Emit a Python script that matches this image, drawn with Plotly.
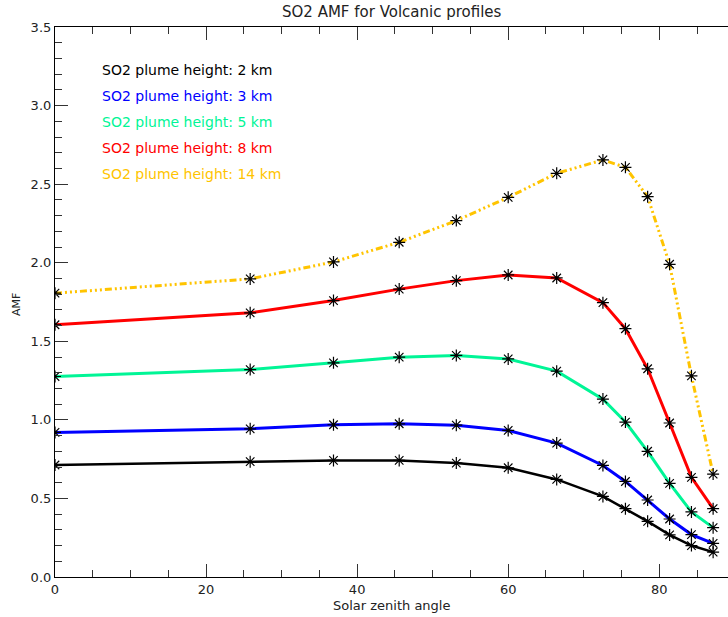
import plotly.graph_objects as go

sza = [0.0, 25.84, 36.87, 45.57, 53.13, 60.0, 66.42, 72.54, 75.52, 78.46, 81.37, 84.26, 87.13]

amf_2km = [0.713, 0.734, 0.742, 0.742, 0.725, 0.695, 0.621, 0.513, 0.435, 0.354, 0.268, 0.200, 0.158]
amf_3km = [0.920, 0.943, 0.969, 0.975, 0.966, 0.933, 0.852, 0.710, 0.608, 0.490, 0.369, 0.270, 0.214]
amf_5km = [1.276, 1.320, 1.363, 1.399, 1.410, 1.388, 1.310, 1.132, 0.986, 0.800, 0.596, 0.414, 0.314]
amf_8km = [1.605, 1.681, 1.759, 1.832, 1.886, 1.922, 1.903, 1.746, 1.580, 1.325, 0.980, 0.634, 0.435]
amf_14km = [1.806, 1.897, 2.005, 2.130, 2.268, 2.416, 2.569, 2.654, 2.607, 2.420, 1.990, 1.280, 0.655]

labels = ["SO2 plume height: 2 km", "SO2 plume height: 3 km", "SO2 plume height: 5 km",
          "SO2 plume height: 8 km", "SO2 plume height: 14 km"]
series = [amf_2km, amf_3km, amf_5km, amf_8km, amf_14km]
colors = ["#000000", "#0000ff", "#00f596", "#ff0000", "#ffc400"]
dashes = ["solid", "solid", "solid", "solid", "7px,3px,2px,3px,2px,3px,2px,3px"]
widths = [2.5, 3, 3, 3, 3]
label_y = [3.226, 3.060, 2.896, 2.730, 2.565]

FONT = "DejaVu Sans"
W, H = 728, 617
L, R, T, B = 55, 0, 27, 40
plot_w = W - L - R
plot_h = H - T - B

fig = go.Figure()
for ys, c, d, w, name in zip(series, colors, dashes, widths, labels):
    fig.add_trace(go.Scatter(
        x=sza, y=ys, mode="lines+markers", name=name,
        line=dict(color=c, width=w, dash=d),
        marker=dict(symbol="asterisk-open", size=10, color="black",
                    line=dict(color="black", width=1.2)),
        showlegend=False,
    ))

for name, c, yy in zip(labels, colors, label_y):
    fig.add_annotation(x=6.0, y=yy, xref="x", yref="y", text=name, showarrow=False,
                       xanchor="left", yanchor="middle",
                       font=dict(family=FONT, size=14, color=c))

# title
fig.add_annotation(x=0.5, y=1 + 15 / plot_h, xref="paper", yref="paper",
                   text="SO2 AMF for Volcanic profiles", showarrow=False,
                   xanchor="center", yanchor="middle",
                   font=dict(family=FONT, size=15, color="#222222"))
# x title
fig.add_annotation(x=0.5, y=-28 / plot_h, xref="paper", yref="paper",
                   text="Solar zenith angle", showarrow=False,
                   xanchor="center", yanchor="middle",
                   font=dict(family=FONT, size=13, color="#222222"))
# y title
fig.add_annotation(x=-38 / plot_w, y=272 / plot_h, xref="paper", yref="paper",
                   text="AMF", showarrow=False, textangle=-90,
                   xanchor="center", yanchor="middle",
                   font=dict(family=FONT, size=11, color="#222222"))

fig.update_layout(
    width=W, height=H,
    margin=dict(l=L, r=R, t=T, b=B, autoexpand=False),
    paper_bgcolor="white", plot_bgcolor="white",
    font=dict(family=FONT, size=12, color="#222222"),
)
fig.update_xaxes(
    range=[0, 89.1], showgrid=False, zeroline=False, automargin=False,
    showline=True, linecolor="black", linewidth=1.2, mirror="ticks",
    ticks="inside", ticklen=13, tickcolor="#333333", tickwidth=1,
    tickvals=[0, 20, 40, 60, 80], ticktext=["0", "20", "40", "60", "80"],
    minor=dict(dtick=5, ticks="inside", ticklen=7, tickcolor="#333333", tickwidth=1),
    tickfont=dict(family=FONT, size=13),
)
fig.update_yaxes(
    range=[0, 3.5], showgrid=False, zeroline=False, automargin=False,
    showline=True, linecolor="black", linewidth=1.2,
    ticks="inside", ticklen=13, tickcolor="#333333", tickwidth=1,
    tickvals=[0, 0.5, 1.0, 1.5, 2.0, 2.5, 3.0, 3.5],
    ticktext=["0.0", "0.5", "1.0", "1.5", "2.0", "2.5", "3.0", "3.5"],
    minor=dict(dtick=0.1, ticks="inside", ticklen=7, tickcolor="#333333", tickwidth=1),
    tickfont=dict(family=FONT, size=13),
)

fig.write_html("out.html", config={"displayModeBar": False},
               post_script="document.body.style.margin='0';document.body.style.overflow='hidden';")
